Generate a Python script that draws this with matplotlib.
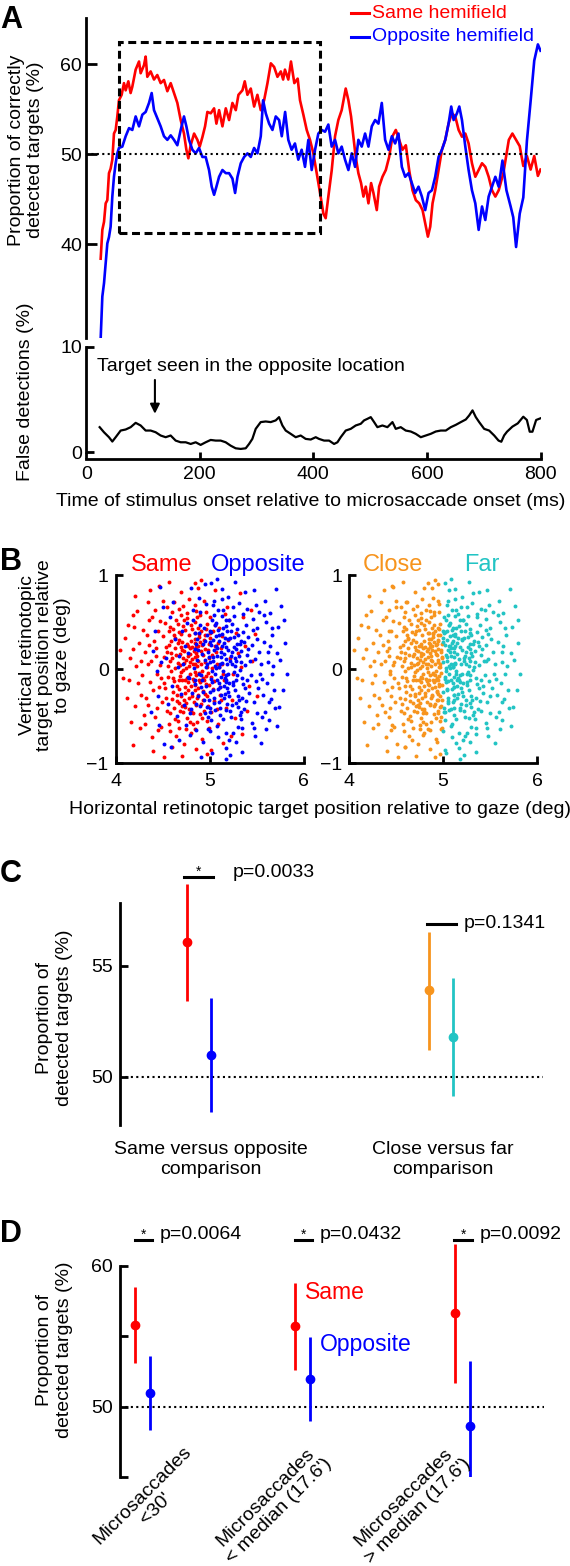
import numpy as np
import matplotlib.pyplot as plt
from matplotlib.patches import Rectangle
from matplotlib.lines import Line2D

plt.rcParams['font.family'] = ['Liberation Sans', 'DejaVu Sans']
plt.rcParams['font.size'] = 14

RED = '#ff0000'
BLUE = '#0000ff'
ORANGE = '#f7941d'
CYAN = '#22c4c4'

# ---- panel A: sliding-window detection curves ----
same_t = [25.5, 28.4, 31.4, 34.3, 37.2, 40.1, 43.0, 46.0, 48.9, 51.9,
          54.8, 57.7, 62.4, 66.5, 69.5, 74.2, 78.2, 81.2, 87.1, 93.0,
          95.9, 101.8, 104.7, 107.6, 113.5, 119.4, 125.2, 131.1, 137.0, 142.9,
          148.8, 154.6, 160.5, 166.4, 172.2, 176.4, 179.9, 184.0, 190.0, 195.8,
          199.9, 204.6, 209.3, 213.4, 219.3, 225.2, 229.3, 234.0, 239.9, 245.8,
          251.6, 257.5, 263.4, 268.1, 275.1, 279.2, 283.9, 289.8, 295.7, 301.5,
          307.4, 313.3, 319.2, 325.1, 330.9, 336.8, 342.7, 346.8, 350.0, 355.9,
          360.6, 366.5, 372.4, 376.5, 382.4, 388.3, 394.1, 400.0, 405.9, 411.8,
          417.7, 421.7, 426.4, 432.3, 438.2, 444.0, 449.9, 457.0, 461.7, 466.4,
          470.5, 474.6, 479.3, 484.0, 488.2, 492.3, 497.0, 501.7, 505.8, 511.7,
          515.8, 521.7, 527.6, 533.5, 539.3, 545.2, 551.1, 557.0, 562.9, 568.7,
          574.6, 580.5, 586.4, 592.3, 597.0, 601.7, 605.8, 609.9, 614.6, 620.5,
          626.4, 632.3, 638.1, 644.0, 649.9, 655.8, 661.7, 667.6, 673.4, 679.3,
          685.2, 691.1, 697.0, 702.8, 708.7, 714.6, 720.5, 726.4, 734.6, 744.2,
          750.5, 757.0, 763.4, 769.7, 776.1, 782.6, 789.0, 795.4, 800.0]
same_v = [38.4, 41.6, 42.5, 44.55, 44.9, 47.9, 48.4, 49.4, 52.3, 52.7,
          54.2, 56.0, 56.6, 57.9, 57.1, 58.1, 56.8, 57.5, 59.4, 60.3,
          59.0, 59.9, 60.85, 58.6, 59.2, 58.3, 58.8, 57.9, 58.25, 57.0,
          57.9, 56.8, 55.7, 53.8, 52.3, 50.5, 49.55, 51.0, 52.3, 51.6,
          50.85, 51.9, 53.1, 54.7, 54.55, 55.1, 53.4, 54.9, 53.1, 55.1,
          53.8, 55.7, 54.9, 56.6, 57.1, 58.1, 56.6, 57.3, 55.3, 56.6,
          54.9, 56.0, 57.9, 60.1, 59.7, 58.6, 59.2, 58.3, 59.4, 58.3,
          60.3, 57.9, 58.4, 56.0, 54.4, 52.7, 51.6, 50.1, 47.9, 45.7,
          43.4, 42.9, 45.3, 48.2, 52.0, 53.8, 54.9, 57.3, 56.0, 54.2,
          52.0, 49.7, 47.9, 46.8, 45.3, 46.4, 44.55, 46.8, 45.7, 43.8,
          46.4, 47.5, 48.25, 49.7, 52.0, 52.7, 51.6, 50.5, 51.0, 48.25,
          46.0, 44.9, 44.55, 43.8, 42.3, 40.85, 41.95, 44.55, 46.0, 48.25,
          50.5, 51.6, 53.4, 54.55, 54.2, 52.7, 51.95, 52.3, 51.2, 49.0,
          47.5, 48.25, 49.0, 48.6, 47.5, 46.0, 45.3, 46.0, 47.9, 51.6,
          52.3, 51.6, 50.9, 48.7, 49.8, 48.3, 49.8, 47.6, 48.3]

opp_t = [25.5, 28.4, 31.4, 34.3, 37.2, 40.1, 43.0, 46.0, 48.9, 51.9,
         54.8, 57.7, 63.6, 69.5, 75.4, 81.2, 87.1, 93.0, 98.9, 104.7,
         110.6, 115.3, 119.4, 125.2, 131.1, 137.0, 142.9, 148.8, 154.6, 160.5,
         166.4, 172.2, 176.4, 181.1, 187.0, 192.8, 198.7, 204.6, 210.4, 216.3,
         221.0, 225.2, 229.3, 234.0, 239.9, 245.8, 251.6, 257.5, 262.2, 266.4,
         272.2, 278.1, 284.0, 289.8, 295.7, 301.5, 307.4, 311.5, 316.2, 322.1,
         328.0, 333.8, 339.7, 344.4, 350.3, 355.9, 361.7, 367.6, 373.5, 379.4,
         385.3, 391.2, 397.1, 403.0, 408.8, 414.7, 420.6, 426.4, 432.3, 438.2,
         444.0, 449.9, 455.8, 461.7, 467.6, 473.5, 479.3, 485.2, 491.1, 497.0,
         502.9, 508.8, 514.6, 520.5, 526.4, 532.3, 538.2, 544.0, 549.9, 555.8,
         561.7, 567.6, 573.5, 579.3, 585.2, 591.1, 597.0, 602.9, 608.8, 614.6,
         620.5, 626.4, 632.3, 638.1, 642.8, 647.0, 652.9, 657.0, 661.7, 667.6,
         673.4, 679.3, 685.2, 691.1, 697.0, 702.8, 708.7, 714.6, 720.5, 726.4,
         733.0, 740.0, 747.4, 752.0, 757.0, 763.4, 769.7, 776.1, 782.6, 789.0,
         795.4, 800.0]
opp_v = [29.55, 34.2, 35.7, 37.9, 40.1, 40.8, 41.95, 45.3, 47.5, 49.0,
         50.1, 50.7, 50.85, 52.0, 52.9, 52.7, 54.2, 53.1, 54.4, 54.7,
         55.7, 56.8, 54.9, 54.0, 53.1, 52.0, 51.6, 52.1, 51.6, 51.0,
         52.7, 54.2, 53.1, 51.6, 50.5, 50.1, 50.7, 49.7, 49.7, 48.25,
         46.4, 45.5, 46.4, 47.5, 48.25, 47.9, 47.9, 47.3, 45.7, 47.5,
         49.0, 49.7, 50.1, 49.7, 50.7, 50.1, 52.0, 56.0, 54.55, 53.4,
         52.7, 54.2, 53.8, 52.0, 54.7, 51.6, 50.5, 51.2, 49.4, 50.5,
         48.6, 51.6, 48.25, 50.5, 52.3, 52.7, 52.5, 53.3, 50.85, 51.6,
         50.1, 50.85, 49.4, 48.25, 50.1, 48.6, 51.6, 50.85, 52.3, 50.85,
         53.1, 53.8, 53.4, 55.7, 51.6, 50.5, 52.0, 51.2, 52.3, 48.6,
         47.5, 47.9, 46.8, 45.7, 46.4, 45.3, 43.8, 45.7, 46.0, 47.5,
         49.7, 50.5, 51.6, 53.4, 55.3, 53.8, 54.55, 55.3, 53.8, 50.85,
         48.25, 46.0, 44.55, 41.6, 44.2, 42.7, 45.3, 46.4, 47.5, 46.4,
         49.3, 46.0, 44.2, 43.0, 39.7, 43.4, 45.2, 51.5, 55.9, 60.4,
         62.2, 61.5]

false_t = [23.7, 31.3, 40.1, 46.0, 51.9, 60.7, 69.5, 78.3, 87.1, 95.9,
           104.7, 113.5, 122.3, 131.1, 139.9, 148.7, 157.5, 166.3, 175.2, 184.0,
           192.8, 201.5, 210.4, 219.2, 228.0, 236.8, 245.6, 254.4, 263.2, 272.1,
           280.9, 286.8, 292.6, 298.5, 307.3, 316.1, 324.9, 333.7, 339.6, 345.5,
           351.3, 360.1, 368.9, 377.7, 386.5, 395.4, 404.2, 410.0, 418.9, 427.7,
           436.5, 442.4, 448.2, 457.0, 465.8, 474.6, 483.5, 489.3, 495.2, 501.1,
           507.0, 512.8, 521.6, 530.4, 539.3, 545.1, 553.9, 562.7, 571.5, 580.3,
           589.2, 598.0, 606.8, 615.6, 624.4, 633.2, 642.1, 650.9, 659.7, 668.5,
           674.4, 680.3, 686.1, 692.0, 700.8, 709.6, 718.5, 726.1, 731.0, 736.0,
           741.0, 750.5, 760.0, 769.7, 776.0, 781.0, 785.8, 792.3, 800.0]
false_v = [2.38, 1.9, 1.43, 1.02, 1.43, 2.06, 2.16, 2.38, 2.79, 2.54,
           2.06, 2.06, 1.9, 1.59, 1.43, 1.59, 1.11, 0.95, 0.95, 0.79,
           0.95, 0.70, 0.95, 1.17, 1.11, 1.11, 0.95, 0.63, 0.38, 0.32,
           0.38, 0.79, 1.27, 2.22, 2.86, 2.92, 2.86, 3.02, 3.33, 2.54,
           2.06, 1.75, 1.43, 1.59, 1.27, 1.21, 1.43, 1.27, 1.11, 1.11,
           0.79, 0.95, 1.43, 2.06, 2.22, 2.54, 2.70, 3.02, 3.17, 3.33,
           2.86, 2.38, 2.54, 2.38, 2.86, 2.22, 2.38, 2.06, 1.97, 1.75,
           1.43, 1.59, 1.75, 1.97, 2.06, 2.06, 2.38, 2.60, 2.86, 3.11,
           3.49, 3.97, 3.33, 2.86, 2.22, 2.06, 1.59, 1.11, 1.0, 1.6,
           1.95, 2.43, 2.74, 3.37, 3.06, 1.95, 1.95, 3.06, 3.22]

box_t = [58, 411]
box_v = [41.3, 62.5]

# ---- panel B: target positions (deg), same / opposite hemifield ----
same_xy = [
    (4.82, 0.05), (4.71, -0.12), (4.95, 0.21), (4.63, 0.33), (4.88, -0.27), (4.77, 0.14), (5.02, -0.08), (4.59, -0.02), (4.91, 0.41), (4.68, -0.36),
    (4.85, 0.28), (4.74, -0.19), (4.97, 0.02), (4.55, 0.18), (4.80, -0.44), (4.66, 0.07), (5.06, 0.25), (4.89, -0.11), (4.61, -0.24), (4.93, -0.33),
    (4.72, 0.46), (4.84, -0.03), (4.57, 0.26), (4.99, 0.12), (4.78, 0.36), (4.69, -0.07), (4.90, -0.48), (4.52, -0.15), (4.86, 0.17), (5.04, -0.21),
    (4.75, 0.01), (4.64, 0.52), (4.96, -0.16), (4.81, 0.24), (4.70, -0.29), (4.58, 0.09), (4.87, 0.55), (5.08, 0.06), (4.62, -0.41), (4.79, -0.05),
    (4.94, 0.31), (4.73, 0.19), (4.83, -0.35), (4.54, -0.31), (4.67, 0.39), (5.01, 0.38), (4.88, 0.09), (4.76, -0.52), (4.60, 0.12), (4.92, -0.02),
    (4.47, 0.04), (4.85, -0.17), (4.71, 0.29), (4.98, -0.39), (4.65, -0.18), (4.80, 0.47), (4.56, -0.08), (5.03, 0.15), (4.74, -0.25), (4.89, 0.34),
    (4.43, 0.22), (4.69, 0.16), (4.95, -0.26), (4.82, -0.58), (4.61, 0.43), (4.77, -0.14), (5.05, -0.34), (4.50, 0.35), (4.86, 0.62), (4.72, -0.01),
    (4.91, 0.19), (4.58, -0.47), (4.79, 0.08), (4.66, -0.55), (4.97, 0.48), (4.84, 0.13), (4.53, 0.49), (4.70, 0.58), (4.93, -0.09), (4.76, 0.27),
    (4.40, -0.22), (4.45, 0.41), (4.38, 0.09), (4.35, -0.38), (4.42, 0.63), (4.48, -0.61), (4.31, 0.18), (4.44, -0.05), (4.36, 0.52), (4.49, -0.35),
    (5.12, 0.22), (5.15, -0.12), (5.10, 0.44), (5.18, -0.41), (5.13, 0.05), (5.20, 0.31), (5.09, -0.58), (5.16, 0.59), (5.11, -0.27), (5.22, 0.12),
    (4.62, 0.71), (4.78, 0.75), (4.85, 0.68), (4.55, 0.66), (4.94, 0.72), (4.70, 0.82), (4.88, 0.86), (4.64, -0.71), (4.80, -0.68), (4.92, -0.74),
    (4.73, -0.79), (4.58, -0.66), (4.99, -0.62), (4.86, -0.85), (4.68, 0.64), (4.50, 0.72), (4.96, 0.61), (4.75, -0.64), (4.84, 0.92), (4.60, -0.83),
    (4.28, -0.06), (4.33, 0.36), (4.25, 0.28), (4.30, -0.49), (4.22, 0.03), (4.27, -0.27), (4.34, 0.71), (4.39, -0.72), (4.20, 0.45), (4.26, -0.63),
    (5.25, -0.05), (5.28, 0.38), (5.24, -0.33), (5.30, 0.17), (5.27, -0.52), (5.19, 0.66), (5.23, -0.71), (5.33, 0.02), (5.21, 0.52), (5.14, -0.78),
    (4.15, 0.12), (4.12, -0.31), (4.18, 0.58), (4.10, 0.33), (4.08, -0.09), (4.16, -0.56), (4.21, 0.78), (4.05, 0.20), (4.19, -0.81), (4.13, 0.47),
    (5.38, 0.25), (5.42, -0.18), (5.36, 0.55), (5.45, 0.09), (5.40, -0.44), (5.35, -0.69), (5.48, 0.37), (5.32, 0.81), (5.50, -0.28), (5.44, 0.63),
    (4.46, 0.88), (4.57, 0.93), (4.91, 0.95), (4.71, -0.92), (4.97, -0.90), (4.40, -0.87), (5.06, 0.84), (5.02, -0.86), (4.52, -0.93), (4.37, 0.84),
    (4.81, 0.11), (4.76, -0.09), (4.87, 0.03), (4.73, 0.07), (4.90, -0.14), (4.79, 0.22), (4.84, -0.22), (4.68, -0.12), (4.95, 0.08), (4.63, 0.01),
    (4.88, 0.25), (4.78, -0.31), (4.70, 0.23), (4.93, 0.15), (4.82, -0.10), (4.66, 0.28), (4.98, -0.04), (4.74, -0.40), (4.86, -0.06), (4.59, 0.17),
    (4.83, 0.19), (4.77, -0.22), (4.91, 0.06), (4.68, 0.31), (4.86, -0.38), (4.74, 0.42), (4.97, -0.29), (4.61, -0.09), (4.89, 0.37), (4.72, -0.46),
    (4.80, 0.30), (4.65, -0.27), (4.94, -0.12), (4.57, 0.40), (4.85, 0.50), (4.70, -0.03), (5.00, 0.33), (4.79, -0.56), (4.63, 0.22), (4.92, 0.26),
    (4.75, 0.10), (4.88, -0.20), (4.53, -0.20), (4.96, 0.43), (4.81, -0.28), (4.66, 0.48), (5.03, 0.01), (4.71, -0.39), (4.87, 0.14), (4.59, 0.30),
    (4.84, 0.38), (4.69, -0.44), (4.93, -0.23), (4.76, 0.54), (4.62, -0.13), (4.99, -0.17), (4.78, 0.03), (4.55, -0.44), (4.90, 0.29), (4.73, -0.33),
    (4.82, -0.47), (4.64, 0.15), (4.95, 0.36), (4.80, -0.18), (4.51, 0.13), (4.87, -0.31), (4.70, 0.37), (5.02, -0.45), (4.77, 0.25), (4.60, -0.32),
    (4.91, -0.37), (4.67, -0.21), (4.84, 0.06), (4.74, -0.11), (4.98, 0.20), (4.58, 0.45), (4.89, -0.04), (4.72, 0.12), (4.81, 0.43), (4.63, -0.53),
    (4.94, -0.44), (4.79, 0.16), (4.56, 0.03), (4.86, 0.23), (4.69, 0.04), (5.04, 0.41), (4.75, -0.36), (4.62, 0.36), (4.92, -0.52), (4.83, -0.13),
    (4.48, -0.09), (4.88, 0.44), (4.71, 0.20), (4.96, -0.07), (4.78, -0.42), (4.65, -0.34), (4.85, 0.32), (4.54, 0.24), (4.99, 0.27), (4.73, 0.52),
    (4.44, -0.41), (4.41, 0.30), (4.46, -0.19), (4.39, 0.55), (4.43, 0.14), (4.37, -0.14), (4.47, 0.51), (4.42, -0.51), (4.34, 0.06), (4.45, -0.65),
    (4.76, 0.60), (4.90, 0.57), (4.68, -0.62), (4.84, -0.64), (4.60, 0.61), (4.97, -0.55), (4.72, 0.67), (4.87, -0.56), (4.57, -0.58), (5.01, 0.55),
    (5.07, 0.18), (5.05, -0.13), (5.10, 0.02), (5.08, -0.42), (5.13, 0.35), (5.06, 0.47), (5.11, -0.19), (5.09, 0.28), (5.14, -0.05), (5.12, -0.33),
    (4.32, -0.31), (4.29, 0.42), (4.24, -0.15), (4.36, 0.26), (4.23, 0.62), (4.31, -0.58), (4.18, 0.21), (4.27, 0.09), (4.14, -0.12), (4.21, -0.39),
]
opp_xy = [
    (5.10, 0.02), (5.21, -0.15), (4.98, 0.18), (5.32, 0.27), (5.05, -0.31), (5.17, 0.11), (4.91, -0.06), (5.27, -0.22), (5.13, 0.37), (5.01, -0.41),
    (5.24, 0.06), (4.95, 0.30), (5.35, -0.09), (5.08, 0.22), (5.19, -0.37), (4.87, 0.10), (5.29, 0.43), (5.03, -0.14), (5.14, -0.02), (5.40, 0.15),
    (4.93, -0.24), (5.22, 0.33), (5.06, 0.47), (5.31, -0.33), (5.00, 0.08), (5.16, -0.26), (4.89, 0.38), (5.26, -0.03), (5.11, -0.49), (5.37, 0.29),
    (5.04, 0.13), (5.20, 0.20), (4.96, -0.18), (5.28, 0.09), (5.09, -0.21), (5.42, -0.25), (4.85, -0.11), (5.18, 0.52), (5.02, 0.26), (5.33, -0.45),
    (5.12, -0.08), (4.94, 0.44), (5.25, -0.17), (5.07, 0.35), (5.38, 0.04), (4.99, -0.33), (5.15, 0.16), (5.30, 0.36), (4.90, -0.39), (5.23, -0.51),
    (5.06, -0.05), (5.19, 0.40), (4.97, 0.05), (5.34, 0.19), (5.10, -0.35), (4.86, 0.27), (5.27, 0.12), (5.02, -0.54), (5.44, -0.06), (5.15, 0.28),
    (4.92, 0.16), (5.21, -0.29), (5.05, 0.58), (5.36, -0.16), (5.13, 0.07), (4.88, -0.28), (5.30, -0.40), (5.00, 0.41), (5.17, -0.12), (5.41, 0.34),
    (5.08, 0.14), (4.95, -0.47), (5.24, 0.48), (5.11, -0.19), (5.32, -0.01), (4.84, 0.21), (5.18, -0.43), (5.04, 0.31), (5.39, -0.34), (5.26, 0.24),
    (5.48, 0.11), (5.52, -0.20), (5.46, 0.42), (5.55, 0.05), (5.50, -0.47), (5.58, 0.29), (5.47, -0.63), (5.53, 0.61), (5.56, -0.10), (5.49, 0.68),
    (4.78, -0.09), (4.74, 0.25), (4.80, -0.42), (4.72, 0.06), (4.76, 0.49), (4.70, -0.26), (4.82, 0.63), (4.75, -0.59), (4.68, 0.14), (4.79, -0.70),
    (5.05, 0.72), (5.20, 0.77), (4.96, 0.69), (5.31, 0.70), (5.13, 0.85), (5.40, 0.64), (5.02, 0.91), (5.09, -0.72), (5.25, -0.68), (4.93, -0.77),
    (5.17, -0.84), (5.35, -0.62), (5.00, -0.66), (5.22, -0.91), (4.89, 0.76), (5.45, -0.57), (5.14, 0.63), (5.28, -0.77), (4.86, -0.65), (5.38, 0.82),
    (5.62, 0.18), (5.65, -0.32), (5.60, 0.50), (5.68, 0.03), (5.63, -0.54), (5.59, 0.72), (5.67, 0.36), (5.61, -0.15), (5.70, -0.41), (5.64, 0.60),
    (4.63, 0.32), (4.60, -0.18), (4.65, -0.50), (4.58, 0.55), (4.66, 0.02), (4.56, -0.37), (4.61, 0.71), (4.67, -0.75), (4.54, 0.12), (4.59, -0.83),
    (5.75, 0.10), (5.78, -0.22), (5.73, 0.45), (5.80, 0.28), (5.72, -0.60), (5.82, -0.05), (5.76, 0.67), (5.74, -0.40), (5.79, 0.52), (5.71, 0.85),
    (4.48, 0.08), (4.45, -0.28), (4.42, 0.40), (4.50, 0.66), (4.46, -0.59), (4.40, 0.19), (4.51, -0.80), (4.44, -0.02), (4.38, -0.45), (4.47, 0.87),
    (5.08, 0.96), (5.27, 0.93), (4.95, 0.90), (5.18, -0.95), (5.35, -0.88), (4.80, 0.86), (5.47, 0.84), (5.03, -0.89), (4.91, -0.93), (5.55, -0.78),
    (5.12, 0.18), (5.18, -0.06), (5.07, 0.01), (5.23, 0.14), (5.15, -0.18), (5.02, -0.10), (5.28, -0.12), (5.10, 0.30), (5.20, -0.24), (5.05, 0.20),
    (5.13, 0.25), (5.04, -0.22), (5.22, 0.09), (4.97, 0.36), (5.30, -0.28), (5.09, 0.42), (5.18, -0.14), (4.92, -0.12), (5.26, 0.34), (5.01, -0.46),
    (5.15, -0.31), (5.34, 0.08), (5.06, 0.03), (4.88, 0.20), (5.21, 0.52), (5.11, -0.41), (5.38, -0.20), (4.99, 0.13), (5.28, 0.21), (5.03, 0.52),
    (5.16, 0.33), (4.94, -0.33), (5.24, -0.38), (5.08, -0.11), (5.36, 0.39), (5.12, 0.13), (4.90, 0.47), (5.29, -0.06), (5.05, -0.36), (5.19, 0.05),
    (5.41, 0.21), (5.00, -0.24), (5.17, 0.46), (4.96, 0.02), (5.32, -0.49), (5.10, 0.36), (5.25, -0.14), (4.86, -0.37), (5.14, -0.53), (5.39, 0.47),
    (5.07, 0.25), (5.20, -0.05), (4.93, 0.27), (5.33, 0.30), (5.02, 0.39), (5.23, 0.41), (5.12, -0.27), (4.98, -0.51), (5.27, 0.03), (5.43, 0.09),
    (5.08, -0.60), (5.18, 0.24), (4.91, -0.19), (5.31, 0.14), (5.04, 0.09), (5.22, -0.44), (5.13, 0.56), (4.87, 0.32), (5.35, -0.31), (5.16, -0.09),
    (5.00, 0.29), (5.26, 0.56), (5.10, -0.15), (5.37, -0.42), (4.95, 0.10), (5.20, 0.32), (5.06, -0.43), (5.29, 0.27), (4.89, -0.05), (5.14, 0.44),
    (5.45, 0.26), (5.03, -0.02), (5.24, 0.18), (5.11, 0.05), (5.34, -0.53), (4.97, -0.40), (5.19, -0.20), (5.07, 0.49), (5.40, -0.12), (5.28, -0.36),
    (5.47, -0.35), (5.51, 0.32), (5.54, -0.05), (5.46, 0.53), (5.57, -0.27), (5.49, -0.13), (5.53, 0.18), (5.50, 0.44), (5.56, -0.51), (5.48, -0.71),
    (5.09, 0.63), (5.25, 0.66), (4.98, -0.64), (5.17, -0.68), (5.36, 0.59), (5.04, 0.68), (5.30, -0.61), (4.90, 0.61), (5.21, -0.75), (5.13, 0.74),
    (4.83, 0.01), (4.81, -0.25), (4.85, 0.38), (4.77, 0.17), (4.79, -0.47), (4.84, -0.16), (4.73, -0.38), (4.82, 0.52), (4.71, 0.41), (4.77, -0.08),
    (5.59, -0.45), (5.62, 0.08), (5.66, 0.44), (5.60, -0.64), (5.64, 0.25), (5.69, -0.22), (5.58, 0.58), (5.66, -0.05), (5.72, 0.17), (5.63, -0.35),
]
split_x = 5.0

# ---- panel C ----
c_groups = ['Same versus opposite\ncomparison', 'Close versus far\ncomparison']
c_mean = [56.06, 50.97, 53.89, 51.78]
c_low = [53.40, 48.41, 51.23, 49.13]
c_high = [58.68, 53.55, 56.54, 54.45]
c_colors = [RED, BLUE, ORANGE, CYAN]
c_p = ['p=0.0033', 'p=0.1341']
c_sig = [True, False]
c_bar_y = [58.98, 56.89]

# ---- panel D ----
d_groups = ["Microsaccades\n<30'", "Microsaccades\n< median (17.6')",
            "Microsaccades\n> median (17.6')"]
d_same_mean = [55.81, 55.74, 56.64]
d_same_low = [53.08, 52.60, 51.66]
d_same_high = [58.53, 58.80, 61.56]
d_opp_mean = [51.00, 52.00, 48.60]
d_opp_low = [48.34, 48.98, 43.85]
d_opp_high = [53.60, 54.98, 53.25]
d_p = ['p=0.0064', 'p=0.0432', 'p=0.0092']
d_bar_y = 61.85

W, H = 570, 1566
fig = plt.figure(figsize=(W / 100, H / 100), dpi=100)


def px_axes(l, t, r, b):
    return fig.add_axes([l / W, 1 - b / H, (r - l) / W, (b - t) / H])


def ftext(x, y, s, **kw):
    return fig.text(x / W, 1 - y / H, s, **kw)


def style(ax, lw=2):
    for s in ['top', 'right']:
        ax.spines[s].set_visible(False)
    for s in ['left', 'bottom']:
        ax.spines[s].set_linewidth(lw)
    ax.tick_params(direction='in', width=lw, labelsize=14)


dotted = (0, (1, 1.6))

# A upper
ax = px_axes(86.2, 18.3, 540.5, 338.3)
style(ax)
ax.spines['bottom'].set_visible(False)
ax.set_xlim(0, 800)
ax.set_ylim(29.56, 65.1)
ax.set_xticks([])
ax.set_yticks([40, 50, 60])
ax.tick_params(axis='y', length=8, pad=3)
ax.plot(same_t, same_v, color=RED, lw=1.9, zorder=2)
ax.plot(opp_t, opp_v, color=BLUE, lw=1.9, zorder=2)
ax.axhline(50, color='k', lw=1.5, ls=dotted, zorder=3)
ax.add_patch(Rectangle((box_t[0], box_v[0]), box_t[1] - box_t[0], box_v[1] - box_v[0],
                       fill=False, ec='k', lw=2.2, ls=(0, (2.6, 1.5)), zorder=4))
for y, lab, c in [(13.3, 'Same hemifield', RED), (36.7, 'Opposite hemifield', BLUE)]:
    fig.add_artist(Line2D([351 / W, 369 / W], [1 - y / H] * 2, color=c, lw=2.2))
    ftext(371.5, y, lab, color=c, fontsize=14, va='center')

# A lower
ax2 = px_axes(86.2, 346.7, 540.5, 459)
style(ax2)
ax2.set_xlim(0, 800)
ax2.set_ylim(-0.634, 10)
ax2.spines['left'].set_bounds(0, 10)
ax2.set_yticks([0, 10])
ax2.set_xticks([0, 200, 400, 600, 800])
ax2.tick_params(axis='y', length=6, pad=3)
ax2.tick_params(axis='x', length=5, pad=5)
ax2.plot(false_t, false_v, color='k', lw=1.6)
ax2.annotate('', xy=(121, 3.65), xytext=(121, 6.85),
             arrowprops=dict(arrowstyle='-|>', color='k', lw=1.5,
                             mutation_scale=14, shrinkA=0, shrinkB=0))
ax2.text(19.5, 8.1, 'Target seen in the opposite location', fontsize=14, va='center')

ftext(26, 150, 'Proportion of correctly\ndetected targets (%)', rotation=90,
      ha='center', va='center', multialignment='center')
ftext(26, 392, 'False detections (%)', rotation=90, ha='center', va='center')
ftext(311, 501.7, 'Time of stimulus onset relative to microsaccade onset (ms)',
      ha='center', va='center')

# B
same_xy = np.array(same_xy)
opp_xy = np.array(opp_xy)
all_xy = np.vstack([same_xy, opp_xy])
close = all_xy[:, 0] < split_x

axL = px_axes(115.6, 575, 303.5, 763.3)
axR = px_axes(349, 575, 537.3, 763.3)
for a in (axL, axR):
    style(a)
    a.set_xlim(4, 6)
    a.set_ylim(-1, 1)
    a.set_xticks([4, 5, 6])
    a.set_yticks([-1, 0, 1])
    a.tick_params(length=5)
    a.tick_params(axis='y', pad=5)
    a.tick_params(axis='x', pad=7)
axL.scatter(same_xy[:, 0], same_xy[:, 1], s=8, color=RED, lw=0)
axL.scatter(opp_xy[:, 0], opp_xy[:, 1], s=8, color=BLUE, lw=0)
axR.scatter(all_xy[close, 0], all_xy[close, 1], s=8, color=ORANGE, lw=0)
axR.scatter(all_xy[~close, 0], all_xy[~close, 1], s=8, color=CYAN, lw=0)
axL.text(4.16, 1.106, 'Same', color=RED, fontsize=17, va='center')
axL.text(5.01, 1.106, 'Opposite', color=BLUE, fontsize=17, va='center')
axR.text(4.15, 1.106, 'Close', color=ORANGE, fontsize=17, va='center')
axR.text(5.22, 1.106, 'Far', color=CYAN, fontsize=17, va='center')

ftext(45, 655, 'Vertical retinotopic\ntarget position relative\nto gaze (deg)', rotation=90,
      ha='center', va='center', multialignment='center', linespacing=1.05)
ftext(320, 810, 'Horizontal retinotopic target position relative to gaze (deg)',
      ha='center', va='center')

# C
axc = px_axes(120, 854.6, 543.4, 1125)
style(axc)
axc.spines['bottom'].set_visible(False)
axc.spines['left'].set_bounds(47.84, 57.84)
axc.set_xlim(0.6756, 2.421)
axc.set_ylim(47.84, 60)
axc.set_xticks([])
axc.set_yticks([50, 55])
axc.tick_params(axis='y', length=6, pad=5)
axc.plot([0.6756, 2.421], [50, 50], color='k', lw=1.5, ls=dotted)
c_x = [1 - 0.05, 1 + 0.05, 2 - 0.05, 2 + 0.05]
for x, m, lo, hi, col in zip(c_x, c_mean, c_low, c_high, c_colors):
    axc.vlines(x, lo, hi, color=col, lw=2)
    axc.plot(x, m, 'o', color=col, ms=6)
for i, (p, sig, by) in enumerate(zip(c_p, c_sig, c_bar_y)):
    g = i + 1
    axc.plot([g - 0.06, g + 0.06], [by, by], color='k', lw=2.2)
    if sig:
        axc.text(g, by + 0.05, '*', fontsize=10, ha='center', va='baseline')
    axc.text(g + (0.139 if i == 0 else 0.0915), by + (0.2 if i == 0 else 0.0), p,
             fontsize=14, va='center')
axc.text(1.051, 46.29, c_groups[0], ha='center', va='center', multialignment='center')
axc.text(2.006, 46.29, c_groups[1], ha='center', va='center', multialignment='center')
ftext(54.5, 1018, 'Proportion of\ndetected targets (%)', rotation=90,
      ha='center', va='center', multialignment='center')

# D
axd = px_axes(120, 1223.8, 544, 1477)
style(axd)
axd.spines['bottom'].set_visible(False)
axd.spines['left'].set_bounds(45, 60)
axd.set_xlim(0.858, 3.51)
axd.set_ylim(45, 63)
axd.set_xticks([])
axd.set_yticks([45, 50, 55, 60])
axd.set_yticklabels(['', '50', '', '60'])
axd.tick_params(axis='y', length=6, pad=5)
axd.plot([0.858, 3.51], [50, 50], color='k', lw=1.5, ls=dotted)
for i in range(3):
    g = i + 1
    axd.vlines(g - 0.047, d_same_low[i], d_same_high[i], color=RED, lw=2)
    axd.plot(g - 0.047, d_same_mean[i], 'o', color=RED, ms=6)
    axd.vlines(g + 0.047, d_opp_low[i], d_opp_high[i], color=BLUE, lw=2)
    axd.plot(g + 0.047, d_opp_mean[i], 'o', color=BLUE, ms=6)
    axd.plot([g - 0.05, g + 0.06], [d_bar_y, d_bar_y], color='k', lw=2.2, clip_on=False)
    axd.text(g + 0.008, d_bar_y + 0.05, '*', fontsize=10, ha='center', va='baseline')
    axd.text(g + 0.105, d_bar_y + 0.42, d_p[i], fontsize=14, va='center')
axd.text(2.016, 58.13, 'Same', color=RED, fontsize=16.5, va='center')
axd.text(2.108, 54.39, 'Opposite', color=BLUE, fontsize=16.5, va='center')
for x, y, lab in zip([1.249, 2.043, 2.908], [47.42, 47.56, 47.56], d_groups):
    axd.text(x, y, lab, rotation=45, rotation_mode='anchor', ha='right', va='top',
             multialignment='center')
ftext(54.5, 1350, 'Proportion of\ndetected targets (%)', rotation=90,
      ha='center', va='center', multialignment='center')

# panel letters
for lab, y in [('A', 28), ('B', 570), ('C', 882), ('D', 1242)]:
    ftext(0, y, lab, fontsize=22, fontweight='bold', va='baseline')

fig.savefig('out.png', dpi=100)
